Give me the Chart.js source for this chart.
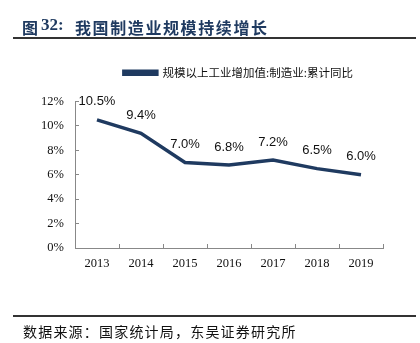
<!DOCTYPE html>
<html>
<head>
<meta charset="utf-8">
<script src="https://cdn.jsdelivr.net/npm/chart.js@4/dist/chart.umd.min.js"></script>
<style>
  html, body { margin: 0; padding: 0; background: #fff; }
  #wrap { position: relative; width: 420px; height: 343px; overflow: hidden; }
  #chart { position: absolute; left: 0; top: 0; }
  .title { position: absolute; top: 15px; font: bold 16px "Noto Sans CJK SC", sans-serif; color: #1f3a60; letter-spacing: 1.6px; white-space: nowrap; }
  .title.num { font-family: "Liberation Serif", "Times New Roman", serif; font-size: 17px; letter-spacing: 0; top: 15px; }
  .rule { position: absolute; left: 13px; width: 403px; height: 2px; background: #333; }
  .source { position: absolute; left: 23px; top: 321px; font: 14px "Noto Sans CJK SC", sans-serif; color: #111; letter-spacing: 1.2px; white-space: nowrap; }
</style>
</head>
<body>
<div id="wrap">
  <canvas id="chart" width="420" height="343"></canvas>
  <div class="title" style="left:22px">图</div>
  <div class="title num" style="left:41px">32:</div>
  <div class="title" style="left:75px">我国制造业规模持续增长</div>
  <div class="rule" style="top:37px"></div>
  <div class="rule" style="top:315px"></div>
  <div class="source">数据来源：国家统计局，东吴证券研究所</div>
</div>
<script>
// Manufacturing value added, cumulative YoY (%)
const years = ['2013', '2014', '2015', '2016', '2017', '2018', '2019'];
const growth = [10.5, 9.4, 7.0, 6.8, 7.2, 6.5, 6.0];
const seriesLabel = '规模以上工业增加值:制造业:累计同比';
const yTicks = [0, 2, 4, 6, 8, 10, 12];

const NAVY = '#1f3a60';
const AXIS = '#888';
const SERIF = '"Liberation Serif", "Times New Roman", serif';

// draws the value above each point
const valueLabels = {
  id: 'valueLabels',
  afterDatasetsDraw(chart) {
    const ctx = chart.ctx;
    const meta = chart.getDatasetMeta(0);
    ctx.save();
    ctx.font = '13px "Liberation Sans", Arial, sans-serif';
    ctx.fillStyle = '#111';
    ctx.textAlign = 'center';
    ctx.textBaseline = 'middle';
    meta.data.forEach((pt, i) => {
      ctx.fillText(growth[i].toFixed(1) + '%', pt.x, pt.y - 18);
    });
    ctx.restore();
  },
};

// extra gap under the legend
const legendGap = {
  id: 'legendGap',
  beforeInit(chart) {
    const fit = chart.legend.fit;
    chart.legend.fit = function () {
      fit.call(this);
      this.height += 13;
    };
  },
};

new Chart(document.getElementById('chart'), {
  type: 'line',
  data: {
    labels: years,
    datasets: [{
      label: seriesLabel,
      data: growth,
      borderColor: NAVY,
      backgroundColor: NAVY,
      borderWidth: 3.5,
      pointRadius: 0,
      tension: 0,
    }],
  },
  options: {
    responsive: false,
    animation: false,
    layout: { padding: { top: 37, right: 37, bottom: 60, left: 0 } },
    plugins: {
      legend: {
        align: 'end',
        labels: {
          boxWidth: 33,
          boxHeight: 3,
          color: '#111',
          font: { size: 11.5, family: '"Noto Sans CJK SC", sans-serif' },
          padding: 30,
        },
      },
      tooltip: { enabled: false },
    },
    scales: {
      x: {
        offset: true,
        grid: { offset: true, drawOnChartArea: false, tickLength: -4, color: AXIS },
        border: { color: AXIS },
        ticks: { color: '#111', padding: 12, font: { size: 12.5, family: SERIF } },
      },
      y: {
        min: 0,
        max: 12,
        afterFit: (s) => { s.width = 75; },
        afterBuildTicks: (s) => { s.ticks = yTicks.map((v) => ({ value: v })); },
        grid: { drawOnChartArea: false, tickLength: -4, color: AXIS },
        border: { display: true, color: AXIS },
        ticks: {
          color: '#111',
          padding: 15,
          font: { size: 12.5, family: SERIF },
          callback: (v) => v + '%',
        },
      },
    },
  },
  plugins: [valueLabels, legendGap],
});
</script>
</body>
</html>
